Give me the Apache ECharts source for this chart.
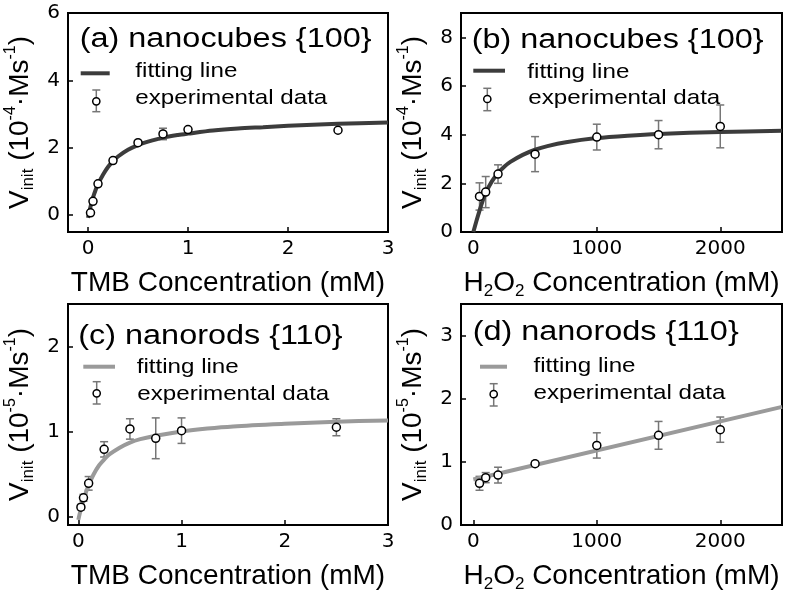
<!DOCTYPE html>
<html>
<head>
<meta charset="utf-8">
<script src="https://cdn.jsdelivr.net/npm/echarts@6/dist/echarts.min.js"></script>
<style>
html,body{margin:0;padding:0;background:#fff;}
#chart{width:787px;height:598px;}
</style>
</head>
<body>
<div id="chart"></div>
<script>
// ---------- data ----------
// (a) nanocubes {100}, TMB
const aX = [0.025, 0.05, 0.1, 0.25, 0.5, 0.75, 1.0, 2.5];
const aY = [0.07, 0.41, 0.93, 1.62, 2.15, 2.41, 2.54, 2.52];
const aErr = [0.03, 0.05, 0.06, 0.06, 0.05, 0.17, 0.05, 0.05];
const aFitX = [0, 0.025, 0.05, 0.075, 0.1, 0.15, 0.2, 0.25, 0.3, 0.4, 0.5, 0.6, 0.75, 0.9, 1.0, 1.25, 1.5, 1.75, 2.0, 2.5, 3.0];
const aFitY = [-0.08, 0.25, 0.52, 0.74, 0.92, 1.2, 1.43, 1.6, 1.74, 1.94, 2.08, 2.18, 2.3, 2.38, 2.42, 2.51, 2.57, 2.61, 2.65, 2.71, 2.75];
// (b) nanocubes {100}, H2O2
const bX = [50, 100, 200, 500, 1000, 1500, 2000];
const bY = [1.46, 1.64, 2.38, 3.2, 3.9, 4.0, 4.34];
const bErr = [0.56, 0.64, 0.38, 0.72, 0.53, 0.58, 0.88];
const bFitX = [0, 25, 50, 75, 100, 150, 200, 250, 300, 400, 500, 600, 750, 1000, 1250, 1500, 2000, 2500];
const bFitY = [0, 0.45, 0.88, 1.27, 1.6, 2.08, 2.42, 2.68, 2.88, 3.17, 3.38, 3.53, 3.69, 3.86, 3.96, 4.03, 4.11, 4.16];
// (c) nanorods {110}, TMB
const cX = [0.025, 0.05, 0.1, 0.25, 0.5, 0.75, 1.0, 2.5];
const cY = [0.11, 0.22, 0.39, 0.79, 1.03, 0.92, 1.01, 1.05];
const cErr = [0.03, 0.04, 0.08, 0.09, 0.12, 0.24, 0.15, 0.1];
const cFitX = [0, 0.025, 0.05, 0.075, 0.1, 0.15, 0.2, 0.25, 0.3, 0.4, 0.5, 0.6, 0.75, 1.0, 1.25, 1.5, 2.0, 2.5, 3.0];
const cFitY = [-0.04, 0.09, 0.2, 0.29, 0.37, 0.5, 0.6, 0.67, 0.73, 0.81, 0.87, 0.91, 0.95, 1.0, 1.035, 1.06, 1.09, 1.115, 1.13];
// (d) nanorods {110}, H2O2
const dX = [50, 100, 200, 500, 1000, 1500, 2000];
const dY = [0.66, 0.75, 0.79, 0.97, 1.26, 1.42, 1.51];
const dErr = [0.11, 0.08, 0.125, 0.04, 0.2, 0.22, 0.2];
const dFitX = [0, 2500];
const dFitY = [0.72, 1.87];

// tick labels
const tmbTicks = [0, 1, 2, 3];
const h2o2Ticks = [0, 1000, 2000];
const aYTicks = [0, 2, 4, 6];
const bYTicks = [0, 2, 4, 6, 8];
const cYTicks = [0, 1, 2];
const dYTicks = [0, 1, 2, 3];

const titles = ['(a) nanocubes {100}', '(b) nanocubes {100}', '(c) nanorods {110}', '(d) nanorods {110}'];
const legendNames = ['fitting line', 'experimental data'];

// ---------- styling / layout ----------
const DARK = '#3c3c3c', LIGHT = '#9a9a9a', ERR = '#767676';
const grids = [
  {left: 68, top: 13, width: 320, height: 219},
  {left: 461, top: 13, width: 321, height: 219},
  {left: 68, top: 304, width: 320, height: 221},
  {left: 461, top: 304, width: 321, height: 221}
];
const panels = [
  {x: aX, y: aY, e: aErr, fx: aFitX, fy: aFitY, color: DARK, xr: [-0.2, 3], yr: [-0.5, 6], xt: tmbTicks, yt: aYTicks, xname: 'tmb', exp: '4', smooth: true},
  {x: bX, y: bY, e: bErr, fx: bFitX, fy: bFitY, color: DARK, xr: [-100, 2500], yr: [0, 9], xt: h2o2Ticks, yt: bYTicks, xname: 'h2o2', exp: '4', smooth: true},
  {x: cX, y: cY, e: cErr, fx: cFitX, fy: cFitY, color: LIGHT, xr: [-0.1, 3], yr: [-0.1, 2.5], xt: tmbTicks, yt: cYTicks, xname: 'tmb', exp: '5', smooth: true},
  {x: dX, y: dY, e: dErr, fx: dFitX, fy: dFitY, color: LIGHT, xr: [-100, 2500], yr: [0, 3.5], xt: h2o2Ticks, yt: dYTicks, xname: 'h2o2', exp: '5', smooth: false}
];
// legend/title layout per panel (pixel positions of decorations)
const deco = [
  {title: [79.7, 49.3], line: [80.7, 109.7, 73.3], t1: [135.3, 79], err: [96.3, 90, 111.7, 101.3], t2: [135.3, 105.7]},
  {title: [471.7, 50], line: [473.3, 505, 70.7], t1: [527.3, 80], err: [487.3, 88.3, 110.7, 99], t2: [528.3, 106]},
  {title: [78.3, 346], line: [83.3, 115, 366.7], t1: [136.7, 375], err: [96.7, 381.7, 404, 393.3], t2: [137.3, 401.7]},
  {title: [472.7, 341.7], line: [480, 507, 366.7], t1: [533.5, 373.7], err: [493.7, 383.7, 406, 394.2], t2: [533.5, 401]}
];

const FONT = '"Liberation Sans", Arial, sans-serif';
const TICKFONT = '"DejaVu Sans", Verdana, sans-serif';

const nameRich = {
  n: {fontSize: 28, lineHeight: 34, fontFamily: FONT, color: '#000'},
  sub: {fontSize: 17, lineHeight: 17, fontFamily: FONT, color: '#000', verticalAlign: 'bottom'},
  sup: {fontSize: 16, lineHeight: 22, fontFamily: FONT, color: '#000', verticalAlign: 'top'}
};
const xNames = {
  tmb: '{n|TMB Concentration (mM)}',
  h2o2: '{n|H}{sub|2}{n|O}{sub|2}{n| Concentration (mM)}'
};
function yName(exp) {
  return '{n|V}{sub|init}{n| (10}{sup|-' + exp + '}{n|·Ms}{sup|-1}{n|)}';
}

function errRender(params, api) {
  const x = api.value(0), y = api.value(1), e = api.value(2);
  const hi = api.coord([x, y + e]);
  const lo = api.coord([x, y - e]);
  const w = 4;
  const st = {stroke: ERR, lineWidth: 1.5};
  return {
    type: 'group',
    children: [
      {type: 'line', shape: {x1: hi[0], y1: hi[1], x2: lo[0], y2: lo[1]}, style: st},
      {type: 'line', shape: {x1: hi[0] - w, y1: hi[1], x2: hi[0] + w, y2: hi[1]}, style: st},
      {type: 'line', shape: {x1: lo[0] - w, y1: lo[1], x2: lo[0] + w, y2: lo[1]}, style: st}
    ]
  };
}

const xAxis = [], yAxis = [], series = [], graphic = [];
panels.forEach((p, i) => {
  xAxis.push({
    type: 'value', gridIndex: i, min: p.xr[0], max: p.xr[1], position: 'bottom',
    axisLine: {show: false, onZero: false},
    axisTick: {show: true, inside: true, length: 5, customValues: p.xt, lineStyle: {color: '#000', width: 1.5}},
    axisLabel: {customValues: p.xt, margin: 7, color: '#000', fontFamily: TICKFONT, fontSize: 20, formatter: v => String(v)},
    splitLine: {show: false},
    name: xNames[p.xname], nameLocation: 'middle', nameGap: 34,
    nameTextStyle: {rich: nameRich}
  });
  yAxis.push({
    type: 'value', gridIndex: i, min: p.yr[0], max: p.yr[1], position: 'left',
    axisLine: {show: false, onZero: false},
    axisTick: {show: true, inside: true, length: 5, customValues: p.yt, lineStyle: {color: '#000', width: 1.5}},
    axisLabel: {customValues: p.yt, margin: 8, color: '#000', fontFamily: TICKFONT, fontSize: 20, formatter: v => String(v)},
    splitLine: {show: false},
    name: yName(p.exp), nameLocation: 'middle', nameGap: 31,
    nameTextStyle: {rich: nameRich}
  });
  series.push({
    type: 'custom', xAxisIndex: i, yAxisIndex: i, renderItem: errRender, z: 2,
    data: p.x.map((xv, k) => [xv, p.y[k], p.e[k]])
  });
  series.push({
    type: 'line', xAxisIndex: i, yAxisIndex: i, z: 3, showSymbol: false, symbol: 'none',
    smooth: p.smooth ? 0.3 : false,
    lineStyle: {color: p.color, width: 4},
    data: p.fx.map((xv, k) => [xv, p.fy[k]])
  });
  series.push({
    type: 'scatter', xAxisIndex: i, yAxisIndex: i, z: 4, symbol: 'circle', symbolSize: 8,
    itemStyle: {color: '#fff', borderColor: '#000', borderWidth: 1.5, opacity: 1},
    data: p.x.map((xv, k) => [xv, p.y[k]])
  });

  const d = deco[i];
  graphic.push({
    type: 'text', x: d.title[0], y: d.title[1] - 9.5, scaleX: 1.2, z: 10,
    style: {text: titles[i], font: '27px ' + FONT, fill: '#000', textVerticalAlign: 'middle'}
  });
  graphic.push({
    type: 'line', z: 10, shape: {x1: d.line[0], y1: d.line[2], x2: d.line[1], y2: d.line[2]},
    style: {stroke: p.color, lineWidth: 4}
  });
  graphic.push({
    type: 'text', x: d.t1[0], y: d.t1[1] - 7.4, scaleX: 1.15, z: 10,
    style: {text: legendNames[0], font: '21px ' + FONT, fill: '#000', textVerticalAlign: 'middle'}
  });
  const ex = d.err[0], et = d.err[1], eb = d.err[2], ec = d.err[3];
  const est = {stroke: ERR, lineWidth: 1.5};
  graphic.push({type: 'line', z: 10, shape: {x1: ex, y1: et, x2: ex, y2: eb}, style: est});
  graphic.push({type: 'line', z: 10, shape: {x1: ex - 4, y1: et, x2: ex + 4, y2: et}, style: est});
  graphic.push({type: 'line', z: 10, shape: {x1: ex - 4, y1: eb, x2: ex + 4, y2: eb}, style: est});
  graphic.push({type: 'circle', z: 11, shape: {cx: ex, cy: ec, r: 3.6}, style: {fill: '#fff', stroke: '#000', lineWidth: 1.5}});
  graphic.push({
    type: 'text', x: d.t2[0], y: d.t2[1] - 7.4, scaleX: 1.15, z: 10,
    style: {text: legendNames[1], font: '21px ' + FONT, fill: '#000', textVerticalAlign: 'middle'}
  });
});

const chart = echarts.init(document.getElementById('chart'), null, {renderer: 'canvas'});
chart.setOption({
  animation: false,
  backgroundColor: '#fff',
  grid: grids.map(g => Object.assign({show: true, borderColor: '#000', borderWidth: 2, backgroundColor: 'transparent', containLabel: false}, g)),
  xAxis: xAxis,
  yAxis: yAxis,
  series: series,
  graphic: graphic
});
</script>
</body>
</html>
